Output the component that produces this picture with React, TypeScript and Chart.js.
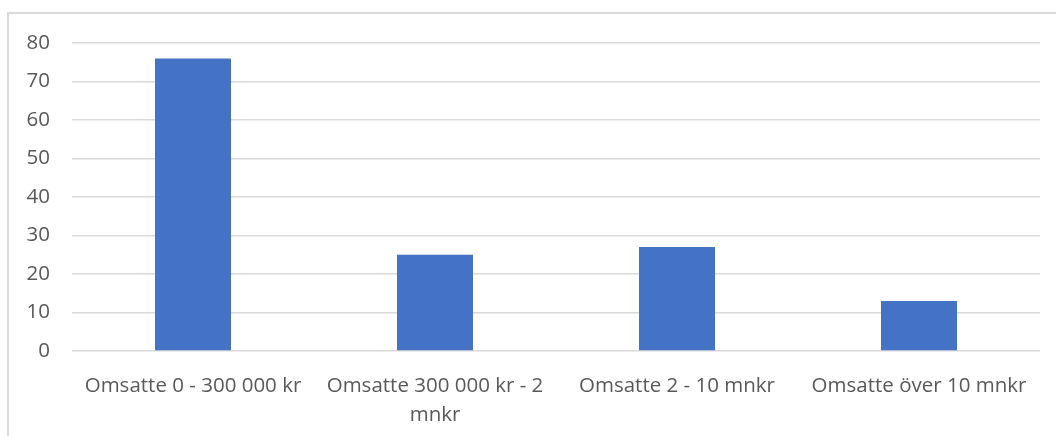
import React, { useEffect, useRef } from "react";
import { Chart, registerables } from "chart.js";

Chart.register(...registerables);

const categories: (string | string[])[] = [
  "Omsatte 0 - 300 000 kr",
  ["Omsatte 300 000 kr - 2", "mnkr"],
  "Omsatte 2 - 10 mnkr",
  "Omsatte över 10 mnkr",
];
const values = [76, 25, 27, 13];
const yTicks = [0, 10, 20, 30, 40, 50, 60, 70, 80];

const FONT = "'Open Sans', 'Noto Sans', sans-serif";

export default function App() {
  const ref = useRef<HTMLCanvasElement | null>(null);
  useEffect(() => {
    if (!ref.current) return;
    const chart = new Chart(ref.current, {
      type: "bar",
      data: {
        labels: categories,
        datasets: [
          {
            data: values,
            backgroundColor: "#4472C4",
            borderWidth: 0,
            categoryPercentage: 1,
            barPercentage: 0.314,
          },
        ],
      },
      options: {
        animation: false,
        responsive: false,
        maintainAspectRatio: false,
        layout: { padding: { top: 43, left: 0, right: 16, bottom: 0 } },
        plugins: { legend: { display: false }, tooltip: { enabled: false } },
        scales: {
          x: {
            grid: { display: false },
            border: { display: false },
            ticks: {
              color: "#595959",
              font: { family: FONT, size: 20.5, lineHeight: 1.4 },
              maxRotation: 0,
              autoSkip: false,
              padding: 13,
            },
            afterFit: (s: any) => {
              s.height = 436 - 351;
            },
          },
          y: {
            min: 0,
            max: 80,
            afterBuildTicks: (s: any) => {
              s.ticks = yTicks.map((v) => ({ value: v }));
            },
            grid: { color: "#D9D9D9", lineWidth: 1.5, drawTicks: false },
            border: { display: false },
            ticks: {
              color: "#595959",
              font: { family: FONT, size: 20.5 },
              padding: 22,
            },
            afterFit: (s: any) => {
              s.width = 72;
            },
          },
        },
      },
    });
    return () => chart.destroy();
  }, []);
  return (
    <div style={{ position: "absolute", left: 0, top: 0, width: 1056, height: 436, background: "#fff" }}>
      <div
        style={{
          position: "absolute",
          left: 7,
          top: 12,
          width: 1060,
          height: 440,
          borderLeft: "2px solid #D9D9D9",
          borderTop: "2px solid #D9D9D9",
        }}
      />
      <canvas ref={ref} width={1056} height={436} style={{ position: "absolute", left: 0, top: 0 }} />
    </div>
  );
}
